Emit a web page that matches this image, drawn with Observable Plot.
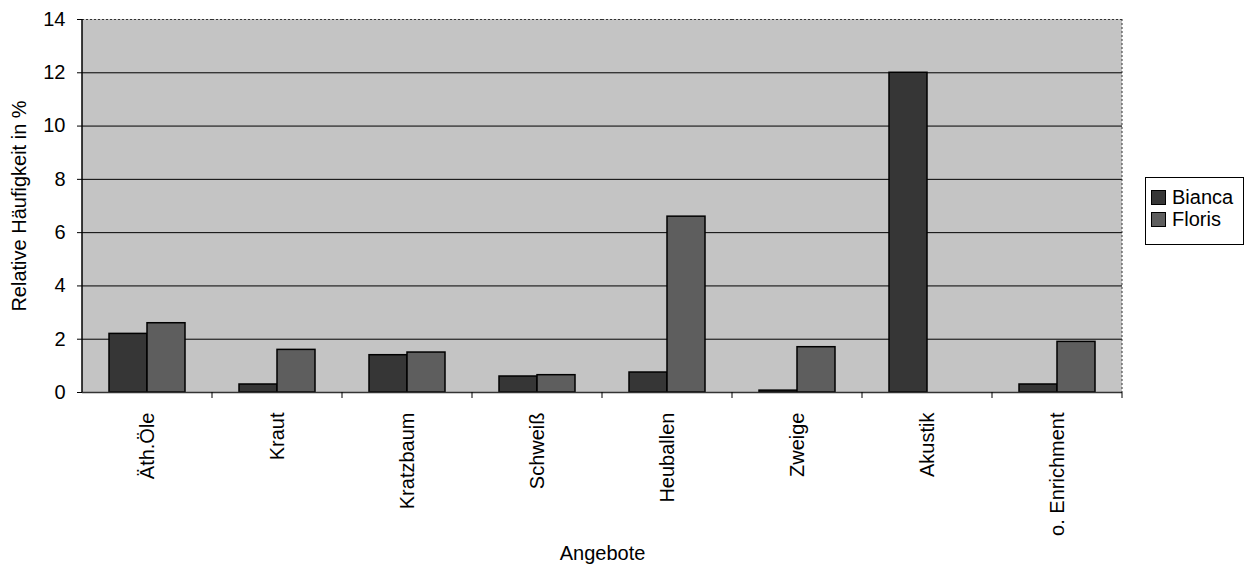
<!DOCTYPE html>
<html><head><meta charset="utf-8">
<script src="https://cdn.jsdelivr.net/npm/d3@7"></script>
<script src="https://cdn.jsdelivr.net/npm/@observablehq/plot@0.6"></script>
<style>
body{margin:0;background:#fff;font-family:"Liberation Sans",Arial,sans-serif}
#wrap{position:relative;width:1246px;height:569px}
#legend{position:absolute;left:1145px;top:177px;width:99px;height:68px;border:1px solid #000;background:#fff;box-sizing:border-box;padding:8px 0 0 5px;font-size:20px;color:#000}
#legend .row{display:flex;align-items:center;height:22px}
#legend .sw{width:15px;height:15px;border:1px solid #000;margin-right:6px;box-sizing:border-box}
</style></head>
<body><div id="wrap"><div id="chart"></div><div id="legend"></div></div>
<script>
const categories = ["Äth.Öle","Kraut","Kratzbaum","Schweiß","Heuballen","Zweige","Akustik","o. Enrichment"];
const series = ["Bianca","Floris"];
const bianca = [2.2, 0.3, 1.4, 0.6, 0.75, 0.07, 12.0, 0.3];
const floris = [2.6, 1.6, 1.5, 0.65, 6.6, 1.7, 0, 1.9];
const yTicks = [0,2,4,6,8,10,12,14];
const gridTicks = [2,4,6,8,10,12];
const seriesColors = ["#363636","#5e5e5e"];

const data = categories.flatMap((c,i)=>[
  {cat:c, who:"Bianca", v:bianca[i]},
  {cat:c, who:"Floris", v:floris[i]}
]);

const chart = Plot.plot({
  width:1246, height:569,
  marginLeft:81, marginRight:124, marginTop:19, marginBottom:177,
  style:{fontFamily:"'Liberation Sans', Arial, sans-serif", fontSize:"20px", color:"#000", background:"transparent", overflow:"visible"},
  fx:{domain:categories, padding:0, tickRotate:-90, tickSize:0, tickPadding:20, label:"Angebote", labelAnchor:"center", labelOffset:167},
  x:{domain:series, paddingInner:0, paddingOuter:0.7, axis:null},
  y:{domain:[0,14], ticks:yTicks, tickSize:5, tickPadding:12, label:"Relative Häufigkeit in %", labelAnchor:"center", labelOffset:71, labelArrow:"none"},
  color:{domain:series, range:seriesColors},
  marks:[
    Plot.ruleY(gridTicks, {stroke:"#000", strokeWidth:1}),
    Plot.ruleY([14], {stroke:"#333", strokeDasharray:"2,2"}),
    Plot.barY(data, {fx:"cat", x:"who", y:"v", fill:"who", stroke:"#000", strokeWidth:1.5}),
    Plot.ruleY([0], {stroke:"#333", strokeWidth:1.5})
  ]
});
document.getElementById("chart").appendChild(chart);

// background, axis line, boundary ticks and right border derived from the scales
const fx = chart.scale("fx");
const yS = chart.scale("y");
const svg = d3.select(chart);
const xL = fx.apply(categories[0]);
const xR = fx.apply(categories[categories.length-1]) + fx.bandwidth;
const y0 = yS.apply(0), y14 = yS.apply(14);
svg.insert("rect", ":first-child").attr("x", xL).attr("y", y14).attr("width", xR - xL).attr("height", y0 - y14).attr("fill", "#c4c4c4");
const bounds = categories.slice(1).map(c => fx.apply(c)).concat([xR]);
svg.append("g").selectAll("line").data(bounds).join("line")
  .attr("x1", d=>d).attr("x2", d=>d).attr("y1", y0).attr("y2", y0+6).attr("stroke","#000");
svg.append("line").attr("x1", xR).attr("x2", xR).attr("y1", y14).attr("y2", y0).attr("stroke","#333").attr("stroke-dasharray","2,2");
svg.append("line").attr("x1", xL).attr("x2", xL).attr("y1", y14).attr("y2", y0).attr("stroke","#000").attr("stroke-width",1.5);

const leg = d3.select("#legend");
series.forEach((s,i)=>{
  const r = leg.append("div").attr("class","row");
  r.append("div").attr("class","sw").style("background", seriesColors[i]);
  r.append("span").text(s);
});
</script></body></html>
